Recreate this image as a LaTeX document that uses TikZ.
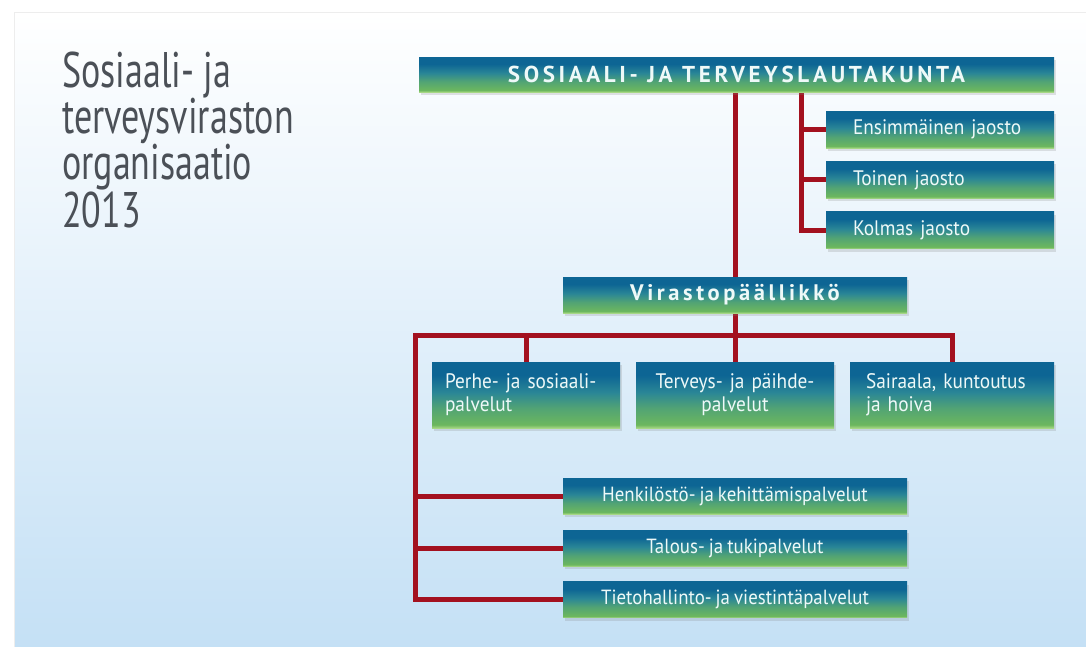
\documentclass[tikz,border=0pt]{standalone}
\usepackage{fontspec}
\setmainfont{PT Sans}
\newfontfamily\boxfont[FakeStretch=0.92, WordSpace=0.8]{PT Sans}
\newfontfamily\titlefont[FakeStretch=0.72]{PT Sans}
\newfontfamily\headfont[LetterSpace=16]{PT Sans}
\usetikzlibrary{positioning,shadows,backgrounds}

\definecolor{linkred}{HTML}{A3111F}
\definecolor{boxtop}{HTML}{0D6594}
\definecolor{boxmid}{HTML}{2A8696}
\definecolor{boxgreen}{HTML}{6CB75E}
\definecolor{boxline}{HTML}{A6D784}
\definecolor{paneltop}{HTML}{FFFFFF}
\definecolor{panelbottom}{HTML}{C4E0F5}
\definecolor{titlegray}{HTML}{4B5057}
\definecolor{boxtext}{HTML}{EEF9F8}

\pgfdeclareverticalshading{boxshade}{100bp}{color(0bp)=(boxline); color(25bp)=(boxline);
  color(27.5bp)=(boxgreen); color(40bp)=(boxgreen!60!boxmid); color(52bp)=(boxmid);
  color(65bp)=(boxtop); color(75bp)=(boxtop); color(100bp)=(boxtop)}

\begin{document}
\begin{tikzpicture}[x=1pt, y=-1pt,
  box/.style = {shading=boxshade, inner sep=0pt, text=boxtext,
                font=\boxfont\fontsize{21}{23}\selectfont,
                drop shadow={shadow xshift=2pt, shadow yshift=-3pt, opacity=0.22}},
  headbox/.style = {box, minimum height=35pt, font=\headfont\bfseries\fontsize{23}{25}\selectfont},
  jaosto/.style = {box, minimum width=228pt, minimum height=37pt, text width=174pt, align=left},
  unit/.style = {box, minimum height=66pt, align=left},
  service/.style = {box, minimum width=344pt, minimum height=36pt,
                    font=\boxfont\fontsize{20.5}{22}\selectfont},
  link/.style = {draw=linkred, line width=5pt},
  title/.style = {anchor=north west, align=left, text=titlegray, inner sep=0pt,
                  font=\titlefont\fontsize{50}{46}\selectfont},
  ]
  \useasboundingbox (0,0) rectangle (1086,646);

  \node[title] (title) at (62,52) {Sosiaali- ja\\terveysviraston\\organisaatio\\2013};

  \node[headbox, minimum width=635pt] (board) at (736.5,74.5) {SOSIAALI- JA TERVEYSLAUTAKUNTA};
  \node[jaosto] (j1) at (940,129.5) {Ensimmäinen jaosto};
  \node[jaosto, below=13pt of j1] (j2) {Toinen jaosto};
  \node[jaosto, below=13pt of j2] (j3) {Kolmas jaosto};

  \node[headbox, minimum width=344pt, minimum height=36pt,
        font=\headfont\bfseries\fontsize{22.5}{24}\selectfont] (chief) at (735,295) {Virastopäällikkö};

  \node[unit, minimum width=188pt, text width=162pt] (family) at (526,395) {Perhe- ja sosiaali-\\palvelut};
  \node[unit, minimum width=198pt, text width=172pt, align=center] (health) at (735,395) {Terveys- ja päihde-\\palvelut};
  \node[unit, minimum width=204pt, text width=172pt] (hospital) at (952,395) {Sairaala, kuntoutus\\ja hoiva};

  \node[service] (staff) at (735,496) {Henkilöstö- ja kehittämispalvelut};
  \node[service, below=16pt of staff] (finance) {Talous- ja tukipalvelut};
  \node[service, below=15pt of finance] (ict) {Tietohallinto- ja viestintäpalvelut};

  \coordinate (jbus) at ([xshift=65pt]board.south);
  \coordinate (ubus) at (415,335);

  \begin{scope}[on background layer]
    \fill[top color=paneltop, bottom color=panelbottom, draw=black!7] (14,12) rectangle (1092,650);
    \draw[link] (chief.north |- board.south) -- (chief.north);
    \draw[link] (j3.west) -| (jbus);
    \draw[link] (jbus |- j1.west) -- (j1.west);
    \draw[link] (jbus |- j2.west) -- (j2.west);
    \draw[link] (chief.south) -- (chief.south |- ubus);
    \draw[link] (ict.west) -| (ubus) -| (hospital.north);
    \draw[link] (ubus -| family.north) -- (family.north);
    \draw[link] (ubus -| health.north) -- (health.north);
    \draw[link] (ubus |- staff.west) -- (staff.west);
    \draw[link] (ubus |- finance.west) -- (finance.west);
  \end{scope}
\end{tikzpicture}
\end{document}
